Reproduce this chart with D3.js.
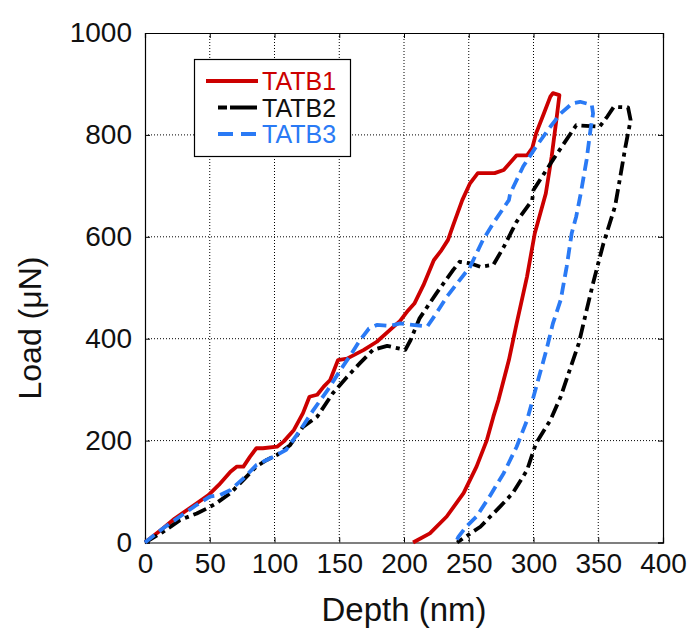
<!DOCTYPE html>
<html>
<head>
<meta charset="utf-8">
<script src="https://cdn.jsdelivr.net/npm/d3@7"></script>
<style>
  html, body { margin: 0; padding: 0; background: #fff; }
  svg { display: block; font-family: "Liberation Sans", Arial, sans-serif; }
</style>
</head>
<body>
<svg id="chart" width="691" height="632"></svg>
<script>
// ---- data (depth nm, load uN) ----
const seriesNames = ["TATB1", "TATB2", "TATB3"];
const xTicks = [0, 50, 100, 150, 200, 250, 300, 350, 400];
const yTicks = [0, 200, 400, 600, 800, 1000];

const tatb1Depth = [0, 14, 23, 40, 49, 57, 66, 71, 76, 81, 86, 91, 102, 107, 115, 122, 127, 133, 138, 143, 149, 156, 169, 179, 189, 197, 203, 208, 215, 223, 229, 234, 238, 245, 251, 257, 270, 277, 287, 295, 299, 302, 308, 313, 315, 320,
  318, 314, 309.5, 301, 295, 287, 281, 273, 269, 264, 256, 246, 233, 220, 207];
const tatb1Load = [0, 28, 47, 77, 93, 113, 139, 149, 149, 168, 185, 185, 188, 198, 221, 254, 286, 290, 306, 319, 358, 361, 378, 394, 417, 435, 455, 469, 505, 554, 574, 594, 623, 672, 705, 725, 725, 731, 760, 760, 774, 803, 842, 875, 882, 878,
  836, 757, 685, 607, 522, 430, 358, 280, 247, 201, 149, 97, 51, 18, 0];

const tatb2Depth = [0, 14, 27, 40, 48, 55, 66, 76, 86, 94, 102, 112, 122, 133, 145, 156, 166, 176, 187, 201, 205, 212, 225, 238, 243, 251, 259, 269, 277, 287, 299, 300, 315, 333, 351, 357, 362, 373, 375,
  371, 367, 363, 354, 346, 341, 335, 328, 321, 313, 302, 295, 284, 274, 259, 241];
const tatb2Load = [0, 21, 44, 57, 67, 77, 97, 123, 149, 162, 172, 191, 227, 247, 293, 325, 352, 378, 386, 378, 397, 440, 489, 535, 551, 548, 541, 545, 580, 630, 672, 692, 751, 819, 816, 836, 855, 854, 829,
  777, 718, 660, 587, 509, 456, 391, 339, 286, 240, 195, 142, 97, 70, 31, 0];

const tatb3Depth = [0, 14, 27, 40, 50, 58, 66, 76, 86, 94, 102, 109, 120, 130, 141, 151, 158, 166, 173, 179, 189, 197, 218, 225, 233, 243, 251, 261, 269, 281, 282, 292, 302, 313, 321, 330, 336, 345, 346,
  344, 341, 336.5, 333, 329.5, 325.6, 321, 315, 310, 305, 300, 295, 287, 277, 266, 256, 248, 242, 240];
const tatb3Load = [0, 28, 51, 74, 90, 93, 103, 126, 152, 162, 172, 182, 221, 260, 299, 339, 365, 397, 420, 427, 425, 430, 424, 450, 482, 515, 541, 594, 627, 672, 685, 738, 777, 816, 842, 862, 865, 859, 842,
  810, 751, 685, 640, 607, 541, 476, 430, 378, 332, 286, 240, 188, 136, 90, 51, 31, 11, 0];

// ---- layout ----
const svg = d3.select("#chart");
const pL = 145, pR = 663, pT = 33, pB = 542.5;
const x = d3.scaleLinear().domain([0, 400]).range([pL, pR]);
const y = d3.scaleLinear().domain([0, 1000]).range([pB, pT]);

// grid
const grid = svg.append("g");
grid.selectAll(".gx").data(xTicks.slice(1, -1)).enter().append("line")
  .attr("x1", d => x(d)).attr("x2", d => x(d)).attr("y1", pT).attr("y2", pB)
  .attr("stroke", "#000").attr("stroke-width", 1).attr("stroke-dasharray", "1,2");
grid.selectAll(".gy").data(yTicks.slice(1, -1)).enter().append("line")
  .attr("y1", d => y(d)).attr("y2", d => y(d)).attr("x1", pL).attr("x2", pR)
  .attr("stroke", "#000").attr("stroke-width", 1).attr("stroke-dasharray", "1,2");

// axes (inner ticks on all sides)
const tickLen = 5;
const fs = 28;
const fmt = d3.format("d");
const gx = svg.append("g").attr("transform", `translate(0,${pB})`)
  .call(d3.axisBottom(x).tickValues(xTicks).tickFormat(fmt).tickSize(-tickLen).tickPadding(11));
const gxt = svg.append("g").attr("transform", `translate(0,${pT})`)
  .call(d3.axisTop(x).tickValues(xTicks).tickSize(-tickLen).tickFormat(""));
const gy = svg.append("g").attr("transform", `translate(${pL},0)`)
  .call(d3.axisLeft(y).tickValues(yTicks).tickFormat(fmt).tickSize(-tickLen).tickPadding(13));
const gyr = svg.append("g").attr("transform", `translate(${pR},0)`)
  .call(d3.axisRight(y).tickValues(yTicks).tickSize(-tickLen).tickFormat(""));
[gx, gxt, gy, gyr].forEach(g => {
  g.select(".domain").attr("stroke", "#000").attr("stroke-width", 1.2);
  g.selectAll(".tick line").attr("stroke", "#000").attr("stroke-width", 1);
  g.selectAll("text").attr("font-size", fs).attr("fill", "#111")
    .attr("font-family", "Liberation Sans, Arial, sans-serif");
});
gx.selectAll("text").attr("dy", "0.71em");

// axis titles
svg.append("text").attr("x", (pL + pR) / 2).attr("y", 621)
  .attr("text-anchor", "middle").attr("font-size", 33).attr("fill", "#111")
  .text("Depth (nm)");
svg.append("text").attr("transform", `translate(41,328) rotate(-90)`)
  .attr("text-anchor", "middle").attr("font-size", 32).attr("fill", "#111")
  .text("Load (μN)");

// curves
const colors = ["#cc0000", "#000000", "#2a7af5"];
const dashes = [null, "14,5,4,5", "12,6"];
const datasets = [
  d3.zip(tatb1Depth, tatb1Load),
  d3.zip(tatb2Depth, tatb2Load),
  d3.zip(tatb3Depth, tatb3Load)
];
const line = d3.line().x(d => x(d[0])).y(d => y(d[1]));
svg.append("defs").append("clipPath").attr("id", "clip")
  .append("rect").attr("x", pL - 3).attr("y", pT).attr("width", pR - pL + 3).attr("height", pB - pT + 3);
const curves = svg.append("g").attr("clip-path", "url(#clip)");
datasets.forEach((ds, i) => {
  curves.append("path").datum(ds).attr("d", line)
    .attr("fill", "none").attr("stroke", colors[i]).attr("stroke-width", 3.8)
    .attr("stroke-linejoin", "round")
    .attr("stroke-dasharray", dashes[i]);
});

// legend
const lg = svg.append("g");
lg.append("rect").attr("x", 194.5).attr("y", 59.5).attr("width", 156).attr("height", 97)
  .attr("fill", "#fff").attr("stroke", "#000").attr("stroke-width", 1.2);
const rowsY = [81, 107.5, 134];
seriesNames.forEach((name, i) => {
  lg.append("line").attr("x1", i === 0 ? 206 : 218).attr("x2", 258)
    .attr("y1", rowsY[i]).attr("y2", rowsY[i])
    .attr("stroke", colors[i]).attr("stroke-width", 3.8)
    .attr("stroke-dasharray", i === 1 ? "9,3,27" : (i === 2 ? "15,8" : null));
  lg.append("text").attr("x", 262).attr("y", rowsY[i]).attr("dy", "0.36em")
    .attr("font-size", 25).attr("fill", colors[i] === "#000000" ? "#111" : colors[i])
    .text(name);
});
</script>
</body>
</html>
